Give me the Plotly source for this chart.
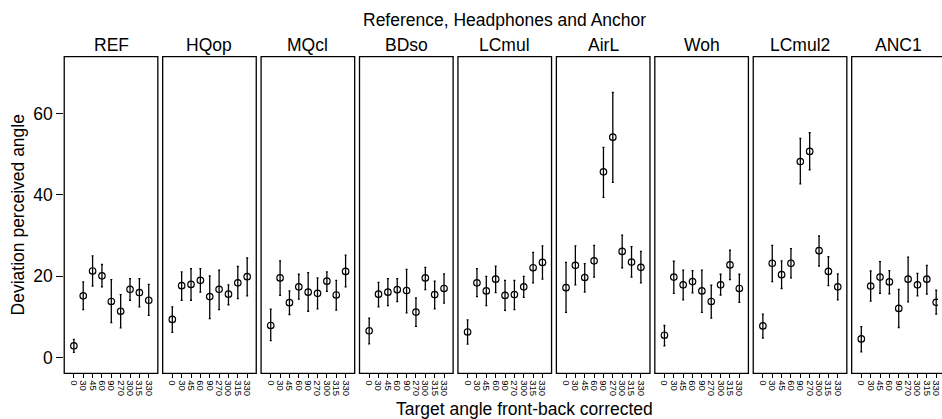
import plotly.graph_objects as go

# Target angles (front-back corrected), shared by every panel
angles = ["0", "30", "45", "60", "90", "270", "300", "315", "330"]

# Panel names
conditions = ["REF", "HQop", "MQcl", "BDso", "LCmul", "AirL", "Woh", "LCmul2", "ANC1"]

# Mean deviation of perceived angle with upper / lower interval bounds
REF_mean = [2.9, 15.2, 21.3, 20.1, 13.8, 11.4, 16.8, 16.0, 14.1]
REF_upper = [4.5, 18.6, 25.0, 22.9, 19.2, 15.5, 19.4, 19.4, 18.0]
REF_lower = [1.3, 11.8, 17.6, 17.4, 8.6, 7.3, 14.1, 12.5, 10.4]

HQop_mean = [9.4, 17.7, 18.0, 19.0, 15.0, 16.8, 15.6, 18.4, 19.9]
HQop_upper = [12.5, 21.1, 21.9, 21.9, 20.1, 21.5, 17.9, 22.4, 24.5]
HQop_lower = [6.2, 14.1, 14.1, 16.1, 9.6, 11.8, 13.0, 14.5, 15.2]

MQcl_mean = [7.9, 19.6, 13.5, 17.4, 16.1, 15.8, 18.8, 15.4, 21.2]
MQcl_upper = [11.9, 23.8, 16.4, 20.5, 20.9, 19.6, 21.1, 19.0, 25.2]
MQcl_lower = [4.2, 15.3, 10.6, 14.4, 11.4, 12.0, 16.3, 11.7, 17.4]

BDso_mean = [6.6, 15.6, 16.1, 16.7, 16.5, 11.2, 19.6, 15.5, 17.0]
BDso_upper = [9.7, 18.5, 19.4, 19.4, 21.7, 14.7, 22.2, 18.8, 20.6]
BDso_lower = [3.4, 12.5, 12.8, 13.8, 11.0, 7.7, 16.7, 12.0, 13.4]

LCmul_mean = [6.3, 18.4, 16.4, 19.3, 15.3, 15.5, 17.4, 22.1, 23.4]
LCmul_upper = [9.3, 21.9, 20.0, 22.5, 19.0, 19.0, 20.0, 25.9, 27.5]
LCmul_lower = [3.3, 15.0, 12.8, 16.0, 11.6, 11.8, 14.8, 18.4, 19.3]

AirL_mean = [17.2, 22.7, 19.7, 23.8, 45.7, 54.2, 26.1, 23.5, 22.2]
AirL_upper = [23.4, 27.5, 23.1, 27.6, 51.7, 65.2, 30.1, 27.3, 26.1]
AirL_lower = [11.1, 17.9, 16.1, 19.8, 39.4, 43.1, 22.1, 19.8, 18.4]

Woh_mean = [5.5, 19.8, 17.9, 18.7, 16.4, 13.8, 17.9, 22.8, 17.0]
Woh_upper = [7.9, 23.7, 21.5, 21.4, 21.5, 17.8, 20.5, 26.4, 20.5]
Woh_lower = [2.9, 15.8, 14.2, 15.9, 11.1, 9.7, 15.4, 19.2, 13.6]

LCmul2_mean = [7.8, 23.2, 20.4, 23.2, 48.2, 50.7, 26.3, 21.2, 17.4]
LCmul2_upper = [10.7, 27.6, 23.8, 26.8, 53.9, 55.3, 29.9, 24.8, 20.6]
LCmul2_lower = [4.8, 18.7, 17.0, 19.6, 42.7, 46.2, 22.5, 17.7, 14.2]

ANC1_mean = [4.6, 17.6, 19.8, 18.6, 12.1, 19.3, 17.9, 19.3, 13.6]
ANC1_upper = [7.6, 21.3, 23.6, 21.4, 16.8, 24.7, 20.7, 22.7, 16.6]
ANC1_lower = [1.4, 13.9, 15.8, 15.7, 7.4, 13.7, 15.2, 15.6, 10.7]

y_ticks = [0, 20, 40, 60]

series = [
    (REF_mean, REF_upper, REF_lower),
    (HQop_mean, HQop_upper, HQop_lower),
    (MQcl_mean, MQcl_upper, MQcl_lower),
    (BDso_mean, BDso_upper, BDso_lower),
    (LCmul_mean, LCmul_upper, LCmul_lower),
    (AirL_mean, AirL_upper, AirL_lower),
    (Woh_mean, Woh_upper, Woh_lower),
    (LCmul2_mean, LCmul2_upper, LCmul2_lower),
    (ANC1_mean, ANC1_upper, ANC1_lower),
]

W, H = 942, 419
FONT = "Liberation Sans, Arial, Helvetica, sans-serif"

# Panel geometry in pixels
panel_left0 = 64.5
panel_step = 98.85
panel_w = 94.0
panel_top, panel_bottom = 56.7, 373.3
x_lo, x_hi = -1.03, 8.97
px_per_cat = panel_w / (x_hi - x_lo)

def px(xp):
    return xp / W

def py(yp):
    return 1 - yp / H

fig = go.Figure()
shapes = []
annotations = []

for i, (name, (mean, upper, lower)) in enumerate(zip(conditions, series)):
    k = "" if i == 0 else str(i + 1)
    left = panel_left0 + i * panel_step
    right = left + panel_w
    vis_right = min(right, W)
    xr_hi = x_lo + (vis_right - left) / px_per_cat

    err_plus = [u - m for u, m in zip(upper, mean)]
    err_minus = [m - l for m, l in zip(mean, lower)]

    fig.add_trace(go.Scatter(
        x=angles, y=mean, mode="markers",
        xaxis="x" + k, yaxis="y" + k,
        marker=dict(symbol="circle-open", size=6.5, color="black",
                    line=dict(width=1.2, color="black")),
        error_y=dict(type="data", symmetric=False, array=err_plus,
                     arrayminus=err_minus, color="black", thickness=1.3,
                     width=1),
        showlegend=False, hoverinfo="skip",
    ))

    fig.layout["xaxis" + k] = dict(
        domain=[px(left), px(vis_right)], anchor="y" + k,
        type="category", categoryorder="array", categoryarray=angles,
        range=[x_lo, xr_hi], tickmode="array", tickvals=angles,
        ticktext=angles, ticks="outside", ticklen=4, tickwidth=1,
        tickcolor="black", tickangle=90,
        tickfont=dict(family=FONT, size=9.5, color="black"),
        showgrid=False, zeroline=False, showline=False, fixedrange=True,
    )
    fig.layout["yaxis" + k] = dict(
        domain=[py(panel_bottom), py(panel_top)], anchor="x" + k,
        range=[-3.86, 74.0], showgrid=False, zeroline=False,
        showline=False, fixedrange=True,
        tickmode="array", tickvals=y_ticks,
        ticks="outside" if i == 0 else "", ticklen=7, tickwidth=1,
        tickcolor="black", showticklabels=(i == 0),
        tickfont=dict(family=FONT, size=17.5, color="black"),
    )

    # panel frame
    shapes.append(dict(type="rect", xref="paper", yref="paper",
                       x0=px(left), x1=px(right) if right <= W else 1.02,
                       y0=py(panel_bottom), y1=py(panel_top),
                       line=dict(color="black", width=1.3),
                       fillcolor="rgba(0,0,0,0)"))

    # strip label
    annotations.append(dict(text=name, xref="paper", yref="paper",
                            x=px(left + panel_w / 2), y=py(45.5),
                            xanchor="center", yanchor="middle",
                            showarrow=False,
                            font=dict(family=FONT, size=17.5, color="black")))

annotations.append(dict(text="Reference, Headphones and Anchor",
                        xref="paper", yref="paper", x=px(507), y=py(20.5),
                        xanchor="center", yanchor="middle", showarrow=False,
                        font=dict(family=FONT, size=17.5, color="black")))
annotations.append(dict(text="Target angle front-back corrected",
                        xref="paper", yref="paper", x=px(527), y=py(409.3),
                        xanchor="center", yanchor="middle", showarrow=False,
                        font=dict(family=FONT, size=17.5, color="black")))
annotations.append(dict(text="Deviation perceived angle",
                        xref="paper", yref="paper", x=px(18.5),
                        y=py((panel_top + panel_bottom) / 2),
                        xanchor="center", yanchor="middle", textangle=-90,
                        showarrow=False,
                        font=dict(family=FONT, size=17.5, color="black")))

fig.update_layout(
    width=W, height=H,
    margin=dict(l=0, r=0, t=0, b=0, pad=0),
    paper_bgcolor="white", plot_bgcolor="white",
    shapes=shapes, annotations=annotations, showlegend=False,
)

fig.write_html("out.html", config={"displayModeBar": False})
